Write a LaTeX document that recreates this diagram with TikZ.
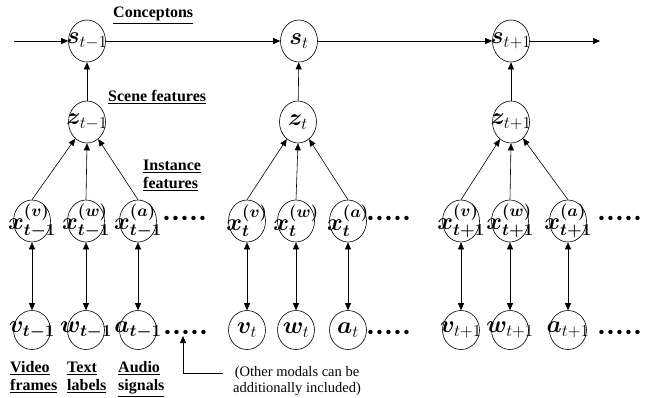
\RequirePackage{fix-cm}
\documentclass[tikz,border=0pt]{standalone}
\usepackage{amsmath}
\usepackage{bm}
\usepackage[no-math]{fontspec}
\setmainfont{Liberation Serif}
\usetikzlibrary{shapes.geometric,arrows.meta}
\begin{document}
\begin{tikzpicture}[x=1pt,y=-1pt,
  mfont/.style={font=\fontsize{24}{28}\selectfont, inner sep=0pt},
  var/.style={ellipse, draw, line width=0.6pt, minimum width=37pt, minimum height=42pt, inner sep=0pt, label={[mfont]center:#1}},
  varb/.style={var=#1, minimum height=39pt},
  arr/.style={-{Triangle[length=7pt,width=6pt]}, line width=0.6pt},
  arrb/.style={{Triangle[length=7pt,width=6pt]}-{Triangle[length=7pt,width=6pt]}, line width=0.6pt},
  lbl/.style={font=\fontsize{16}{18}\selectfont\bfseries, inner sep=0pt, align=left, anchor=base west},
  dotrow/.style={font=\fontsize{28}{30}\selectfont, inner sep=0pt, anchor=base},
  note/.style={font=\fontsize{14.5}{15.5}\selectfont, inner sep=0pt, align=center, anchor=base}
]
\useasboundingbox (0,0) rectangle (652,397);

% conceptons
\node[var={$\bm{s}_{t-1}$}] (s1) at (87,41) {};
\node[var={$\bm{s}_{t}$}] (s2) at (299,41) {};
\node[var={$\bm{s}_{t+1}$}] (s3) at (511,41) {};
% scene features
\node[var={$\bm{z}_{t-1}$}] (z1) at (87,122) {};
\node[var={$\bm{z}_{t}$}] (z2) at (298,122) {};
\node[var={$\bm{z}_{t+1}$}] (z3) at (511,122) {};
% instance features
\node[var={$\bm{x^{(v)}_{t-1}}$}] (xv1) at (32,221) {};
\node[var={$\bm{x^{(w)}_{t-1}}$}] (xw1) at (86,221) {};
\node[var={$\bm{x^{(a)}_{t-1}}$}] (xa1) at (138,221) {};
\node[var={$\bm{x^{(v)}_{t}}$}] (xv2) at (247,221) {};
\node[var={$\bm{x^{(w)}_{t}}$}] (xw2) at (296,221) {};
\node[var={$\bm{x^{(a)}_{t}}$}] (xa2) at (348,221) {};
\node[var={$\bm{x^{(v)}_{t+1}}$}] (xv3) at (461,221) {};
\node[var={$\bm{x^{(w)}_{t+1}}$}] (xw3) at (510,221) {};
\node[var={$\bm{x^{(a)}_{t+1}}$}] (xa3) at (568,221) {};
% observations
\node[varb={$\bm{v_{t-1}}$}] (v1) at (32,330) {};
\node[varb={$\bm{w_{t-1}}$}] (w1) at (86,330) {};
\node[varb={$\bm{a_{t-1}}$}] (a1) at (138,330) {};
\node[varb={$\bm{v}_{t}$}] (v2) at (247,330) {};
\node[varb={$\bm{w}_{t}$}] (w2) at (296,330) {};
\node[varb={$\bm{a}_{t}$}] (a2) at (348,330) {};
\node[varb={$\bm{v}_{t+1}$}] (v3) at (461,330) {};
\node[varb={$\bm{w}_{t+1}$}] (w3) at (510,330) {};
\node[varb={$\bm{a}_{t+1}$}] (a3) at (568,330) {};

% dots
\node[dotrow] (dx1) at (185,225) {$\bm{{\cdot}{\cdot}{\cdot}{\cdot}{\cdot}}$};
\node[dotrow] (dx2) at (389,225) {$\bm{{\cdot}{\cdot}{\cdot}{\cdot}{\cdot}}$};
\node[dotrow] (dx3) at (620,225) {$\bm{{\cdot}{\cdot}{\cdot}{\cdot}{\cdot}}$};
\node[dotrow] (do1) at (186,339) {$\bm{{\cdot}{\cdot}{\cdot}{\cdot}{\cdot}}$};
\node[dotrow] (do2) at (389,339) {$\bm{{\cdot}{\cdot}{\cdot}{\cdot}{\cdot}}$};
\node[dotrow] (do3) at (620,339) {$\bm{{\cdot}{\cdot}{\cdot}{\cdot}{\cdot}}$};

% temporal chain
\coordinate (cin) at (14,41);
\coordinate (cout) at (600,41);
\draw[arr] (cin) -- (s1);
\draw[arr] (s1) -- (s2);
\draw[arr] (s2) -- (s3);
\draw[arr] (s3) -- (cout);

% z -> s
\draw[arr] (z1) -- (s1);
\draw[arr] (z2) -- (s2);
\draw[arr] (z3) -- (s3);

% x -> z
\foreach \i in {1,2,3}{
  \draw[arr] (xv\i.north) -- (z\i);
  \draw[arr] (xw\i.north) -- (z\i.south);
  \draw[arr] (xa\i.north) -- (z\i);
}
% x <-> observations
\draw[arrb] (xv1) -- (v1);
\draw[arrb] (xw1) -- (w1);
\draw[arrb] (xa1) -- (a1);
\draw[arrb] (xv2) -- (v2);
\draw[arrb] (xw2) -- (w2);
\draw[arrb] (xa2) -- (a2);
\draw[arrb] (xv3) -- (v3);
\draw[arrb] (xw3) -- (w3);
\draw[arrb] (xa3) -- (a3);

% labels
\node[lbl] (lc) at (113,17.5) {\underline{Conceptons}};
\node[lbl] (ls) at (108,101) {\underline{Scene features}};
\node[lbl] (li) at (143,188) {\underline{Instance}\\\underline{features}};
\node[lbl] (lv) at (10,390) {\underline{Video}\\\underline{frames}};
\node[lbl] (lt) at (67,390) {\underline{Text}\\\underline{labels}};
\node[lbl] (la) at (118,390) {\underline{Audio}\\\underline{signals}};

% annotation
\node[note] (an) at (297,392) {(Other modals can be\\additionally included)};
\coordinate (ae) at (223,373);
\coordinate (ac) at (183,373);
\coordinate (at) at (183,336);
\draw[arr] (ae) -- (ac) -- (at);
\end{tikzpicture}
\end{document}
